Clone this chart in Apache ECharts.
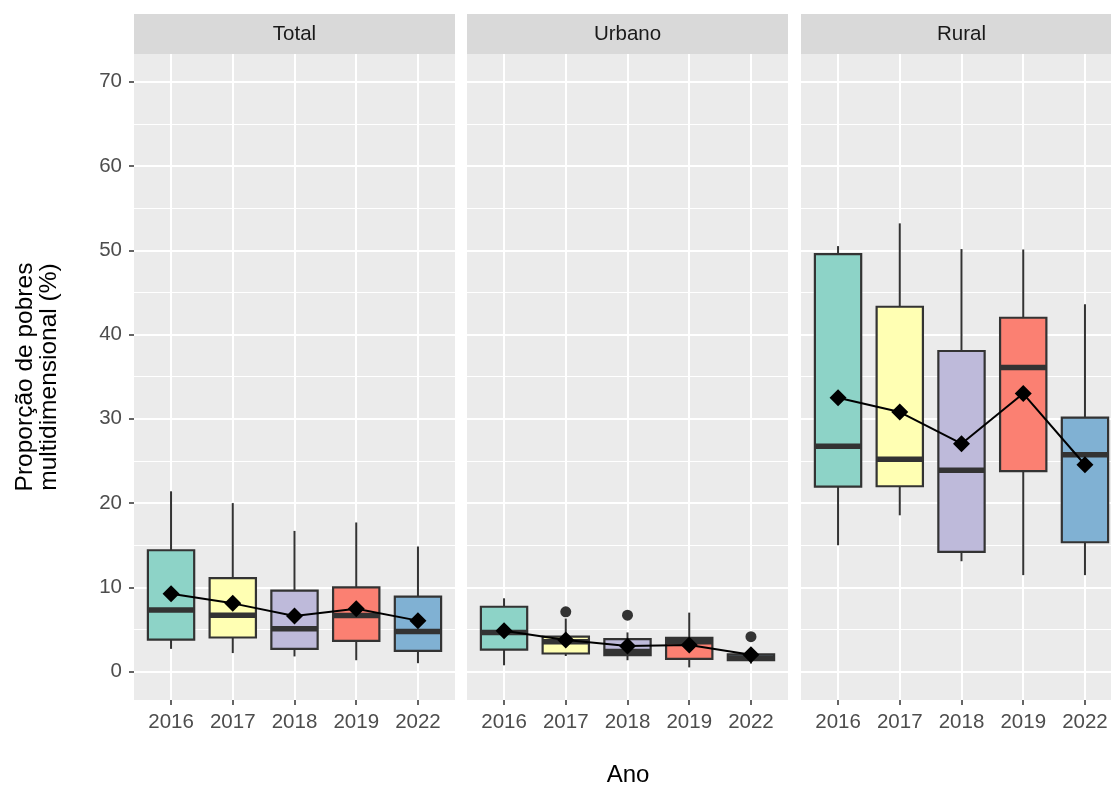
<!DOCTYPE html>
<html>
<head>
<meta charset="utf-8">
<script src="https://cdn.jsdelivr.net/npm/echarts@6/dist/echarts.min.js"></script>
<style>
  html, body { margin: 0; padding: 0; background: #ffffff; }
  #chart { width: 1111px; height: 788px; }
</style>
</head>
<body>
<div id="chart"></div>
<script>
// Categories and facets
const years = ['2016', '2017', '2018', '2019', '2022'];
const facetNames = ['Total', 'Urbano', 'Rural'];
const fillColors = ['#8DD3C7', '#FFFFB3', '#BEBADA', '#FB8072', '#80B1D3'];

// Box statistics per year: [lower whisker, Q1, median, Q3, upper whisker]
const totalBoxes = [
  [2.7, 3.8, 7.3, 14.4, 21.4],
  [2.2, 4.05, 6.7, 11.1, 20.0],
  [1.8, 2.7, 5.1, 9.6, 16.7],
  [1.35, 3.65, 6.65, 10.0, 17.7],
  [1.0, 2.45, 4.75, 8.9, 14.85]
];
const urbanBoxes = [
  [0.75, 2.6, 4.65, 7.7, 8.7],
  [1.85, 2.15, 3.55, 4.15, 6.3],
  [1.35, 1.95, 2.4, 3.85, 4.65],
  [0.5, 1.5, 3.55, 4.0, 7.0],
  [0.95, 1.35, 1.6, 2.05, 2.2]
];
const ruralBoxes = [
  [15.0, 21.95, 26.75, 49.55, 50.5],
  [18.55, 22.0, 25.2, 43.3, 53.2],
  [13.1, 14.2, 23.9, 38.05, 50.15],
  [11.45, 23.8, 36.1, 42.0, 50.1],
  [11.45, 15.35, 25.75, 30.15, 43.6]
];

// Mean per year
const totalMeans = [9.25, 8.1, 6.6, 7.45, 6.05];
const urbanMeans = [4.85, 3.75, 3.05, 3.15, 2.0];
const ruralMeans = [32.5, 30.8, 27.05, 33.0, 24.55];

// Outliers: [year index, value]
const urbanOutliers = [[1, 7.1], [2, 6.7], [4, 4.15]];

// Tick labels
const yMajorTicks = [0, 10, 20, 30, 40, 50, 60, 70];
const yMinorTicks = [5, 15, 25, 35, 45, 55, 65];
const xTicks = [0, 1, 2, 3, 4];

const facetBoxes = [totalBoxes, urbanBoxes, ruralBoxes];
const facetMeans = [totalMeans, urbanMeans, ruralMeans];
const facetOutliers = [[], urbanOutliers, []];

const FONT = '"Liberation Sans", Arial, sans-serif';
const Y_MIN = -3.37, Y_MAX = 73.3;
const panelLefts = [134, 467, 801];
const PANEL_W = 321, PANEL_TOP = 54, PANEL_H = 646;
const INK = '#333333';

const chart = echarts.init(document.getElementById('chart'), null, { renderer: 'canvas' });

function renderBox(params, api) {
  const k = api.value(0);
  const lo = api.coord([k, api.value(1)]);
  const q1 = api.coord([k, api.value(2)]);
  const med = api.coord([k, api.value(3)]);
  const q3 = api.coord([k, api.value(4)]);
  const hi = api.coord([k, api.value(5)]);
  const w = api.size([0.75, 0])[0];
  const cx = q1[0];
  return {
    type: 'group',
    children: [
      { type: 'line', shape: { x1: cx, y1: q3[1], x2: cx, y2: hi[1] },
        style: { stroke: INK, lineWidth: 2 } },
      { type: 'line', shape: { x1: cx, y1: q1[1], x2: cx, y2: lo[1] },
        style: { stroke: INK, lineWidth: 2 } },
      { type: 'rect', shape: { x: cx - w / 2, y: q3[1], width: w, height: q1[1] - q3[1] },
        style: { fill: fillColors[k], stroke: INK, lineWidth: 2.2 } },
      { type: 'line', shape: { x1: cx - w / 2, y1: med[1], x2: cx + w / 2, y2: med[1] },
        style: { stroke: INK, lineWidth: 5.5 } }
    ]
  };
}

const grid = [], xAxis = [], yAxis = [], series = [], graphic = [];

facetNames.forEach((name, i) => {
  const left = panelLefts[i];
  grid.push({
    left: left, top: PANEL_TOP, width: PANEL_W, height: PANEL_H,
    show: true, backgroundColor: '#EBEBEB', borderWidth: 0,
    outerBoundsMode: 'none', containLabel: false
  });
  xAxis.push({
    type: 'value', gridIndex: i, min: -0.6, max: 4.6, position: 'bottom',
    axisLine: { show: false, onZero: false },
    axisTick: { show: true, customValues: xTicks, length: 5,
                lineStyle: { color: INK, width: 1.5 } },
    axisLabel: { customValues: xTicks, formatter: v => years[Math.round(v)],
                 color: '#4D4D4D', fontSize: 20.5, fontFamily: FONT, margin: 12 },
    splitLine: { show: true, lineStyle: { color: '#FFFFFF', width: 2 } }
  });
  // major grid / labels
  yAxis.push({
    type: 'value', gridIndex: i, min: Y_MIN, max: Y_MAX, position: 'left',
    axisLine: { show: false, onZero: false },
    axisTick: { show: i === 0, customValues: yMajorTicks, length: 5,
                lineStyle: { color: INK, width: 1.5 } },
    axisLabel: { show: i === 0, customValues: yMajorTicks, color: '#4D4D4D',
                 fontSize: 20.5, fontFamily: FONT, margin: 12 },
    splitLine: { show: true, lineStyle: { color: '#FFFFFF', width: 2 } }
  });
  // minor grid
  yAxis.push({
    type: 'value', gridIndex: i, min: Y_MIN, max: Y_MAX, position: 'left',
    axisLine: { show: false, onZero: false },
    axisTick: { show: false, customValues: yMinorTicks },
    axisLabel: { show: false, customValues: yMinorTicks },
    splitLine: { show: true, lineStyle: { color: '#FFFFFF', width: 1 } }
  });

  series.push({
    type: 'custom', name: name + ' box',
    xAxisIndex: i, yAxisIndex: 2 * i,
    data: facetBoxes[i].map((b, k) => [k].concat(b)),
    encode: { x: 0, y: [1, 2, 3, 4, 5] },
    renderItem: renderBox, z: 2, silent: true
  });
  if (facetOutliers[i].length) {
    series.push({
      type: 'scatter', name: name + ' outliers',
      xAxisIndex: i, yAxisIndex: 2 * i,
      data: facetOutliers[i], symbol: 'circle', symbolSize: 11,
      itemStyle: { color: INK, opacity: 1 }, z: 3, silent: true
    });
  }
  series.push({
    type: 'line', name: name + ' mean',
    xAxisIndex: i, yAxisIndex: 2 * i,
    data: facetMeans[i].map((m, k) => [k, m]),
    symbol: 'diamond', symbolSize: 17, showSymbol: true,
    itemStyle: { color: '#000000', opacity: 1 },
    lineStyle: { color: '#000000', width: 2 },
    z: 4, silent: true
  });

  // facet strip
  graphic.push({
    type: 'rect', z: 10,
    shape: { x: left, y: 14, width: PANEL_W, height: 40 },
    style: { fill: '#D9D9D9' }
  });
  graphic.push({
    type: 'text', z: 11, x: left + PANEL_W / 2, y: 34,
    style: { text: name, fill: '#1A1A1A', fontSize: 20.5, fontFamily: FONT,
             textAlign: 'center', textVerticalAlign: 'middle' }
  });
});

// axis titles
graphic.push({
  type: 'text', z: 11, x: 628, y: 775,
  style: { text: 'Ano', fill: '#000000', fontSize: 24, fontFamily: FONT,
           textAlign: 'center', textVerticalAlign: 'middle' }
});
graphic.push({
  type: 'text', z: 11, x: 37, y: 377, rotation: Math.PI / 2,
  style: { text: 'Proporção de pobres\nmultidimensional (%)', fill: '#000000',
           fontSize: 24.5, lineHeight: 23.5, fontFamily: FONT,
           textAlign: 'center', textVerticalAlign: 'middle' }
});

chart.setOption({
  animation: false,
  backgroundColor: '#FFFFFF',
  grid: grid,
  xAxis: xAxis,
  yAxis: yAxis,
  series: series,
  graphic: graphic
});
</script>
</body>
</html>
